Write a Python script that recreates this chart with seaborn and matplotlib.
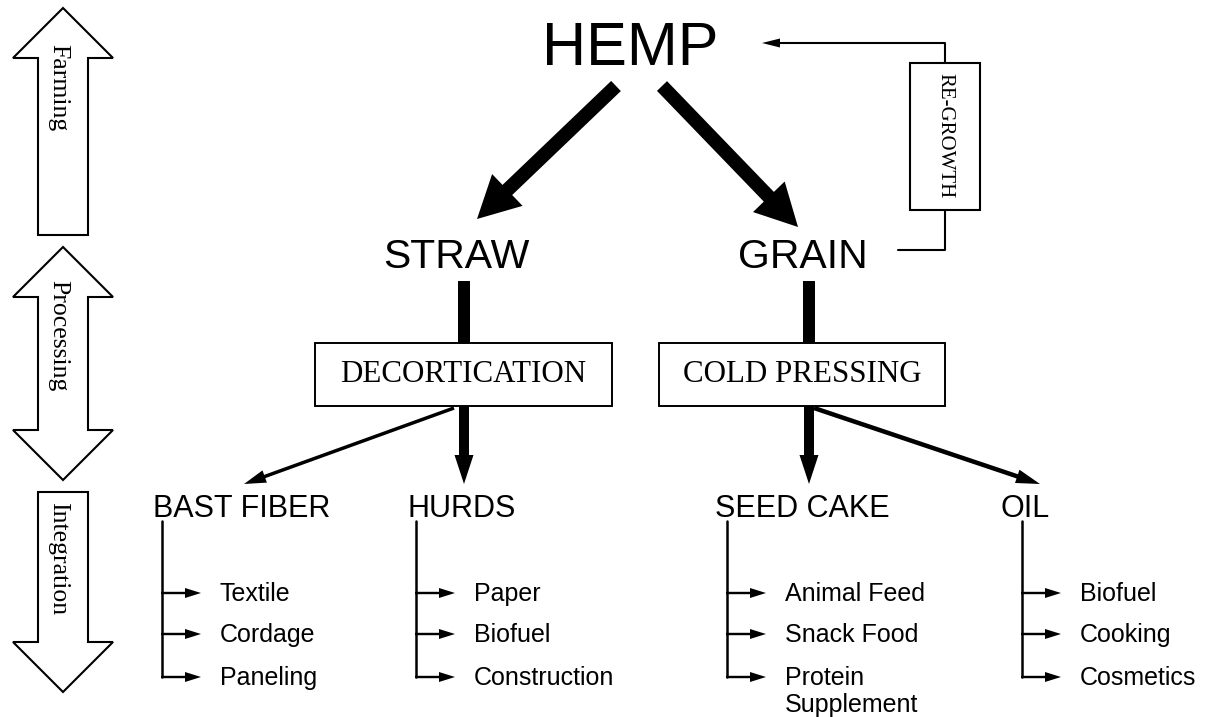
import seaborn as sns
import matplotlib as mpl
mpl.use('Agg')
from matplotlib import pyplot as plt
from matplotlib.patches import Polygon, Rectangle, FancyArrow

# ---- diagram content
stages = ['Farming', 'Processing', 'Integration']
crop = 'HEMP'
parts = ['STRAW', 'GRAIN']
processes = ['DECORTICATION', 'COLD PRESSING']
loop_label = 'RE-GROWTH'
products = ['BAST FIBER', 'HURDS', 'SEED CAKE', 'OIL']
uses = [['Textile', 'Cordage', 'Paneling'],
        ['Paper', 'Biofuel', 'Construction'],
        ['Animal Feed', 'Snack Food', 'Protein\nSupplement'],
        ['Biofuel', 'Cooking', 'Cosmetics']]

# ---- layout, in pixels with y pointing down
W, H = 1206, 717
SANS = 'Liberation Sans'
SERIF = 'Liberation Serif'

stage_span = [(8, 235, True, False), (247, 480, True, True), (492, 692, False, True)]
stage_text_y = [88, 336, 559]

part_x = [456, 803]          # centres of STRAW / GRAIN
bar_x = [464, 809]           # thick connectors / box centres
box_x = [(315, 612), (659, 945)]
box_y = (343, 406)

product_x = [153, 407, 715, 1000]
stem_x = [162, 416, 727, 1022]
branch_y = [593, 634, 677]


def stage_arrow(ax, top, bottom, up, down, cx=63, hs=25, hh=50, hl=50):
    pts = []
    if up:
        pts += [(cx, top), (cx + hh, top + hl), (cx + hs, top + hl)]
    else:
        pts += [(cx + hs, top)]
    if down:
        pts += [(cx + hs, bottom - hl), (cx + hh, bottom - hl), (cx, bottom),
                (cx - hh, bottom - hl), (cx - hs, bottom - hl)]
    else:
        pts += [(cx + hs, bottom), (cx - hs, bottom)]
    if up:
        pts += [(cx - hs, top + hl), (cx - hh, top + hl)]
    else:
        pts += [(cx - hs, top)]
    ax.add_patch(Polygon(pts, closed=True, fc='white', ec='black', lw=1.5))


def arrow(ax, x0, y0, x1, y1, w, hw, hl):
    ax.add_patch(FancyArrow(x0, y0, x1 - x0, y1 - y0, width=w, head_width=hw,
                            head_length=hl, length_includes_head=True,
                            fc='black', ec='none'))


sns.set_theme(style='white')
plt.rcParams['font.family'] = [SANS, 'DejaVu Sans']
plt.rcParams['text.color'] = 'black'

fig = plt.figure(figsize=(W / 100, H / 100), dpi=100)
ax = fig.add_axes([0, 0, 1, 1])
ax.set_xlim(0, W)
ax.set_ylim(H, 0)
ax.axis('off')

# stage arrows on the left
for (top, bottom, up, down), label, ty in zip(stage_span, stages, stage_text_y):
    stage_arrow(ax, top, bottom, up, down)
    ax.text(58, ty, label, rotation=270, ha='center', va='center',
            family=SERIF, fontsize=18.5)

# HEMP and its two main arrows
ax.text(630, 65, crop, ha='center', va='baseline', fontsize=44)
arrow(ax, 616, 86, 477, 219, 14, 44, 42)
arrow(ax, 662, 86, 798, 227, 14, 44, 42)

# re-growth loop
ax.plot([898, 945, 945], [250, 250, 210], color='black', lw=1.5)
ax.plot([945, 945, 775], [63, 43, 43], color='black', lw=1.5)
arrow(ax, 790, 43, 762, 43, 1.5, 9, 18)
ax.add_patch(Rectangle((910, 63), 70, 147, fc='white', ec='black', lw=1.5))
ax.text(945, 136, loop_label, rotation=270, ha='center', va='center',
        family=SERIF, fontsize=15)

# STRAW / GRAIN, bars and process boxes
for px, bx, name, (x0, x1), proc in zip(part_x, bar_x, parts, box_x, processes):
    ax.text(px, 268, name, ha='center', va='baseline', fontsize=29.5)
    ax.add_patch(Rectangle((bx - 6, 281), 12, box_y[0] - 281, fc='black', ec='none'))
    ax.add_patch(Rectangle((x0, box_y[0]), x1 - x0, box_y[1] - box_y[0],
                           fc='white', ec='black', lw=1.4))
    ax.text((x0 + x1) / 2, 382, proc, ha='center', va='baseline',
            family=SERIF, fontsize=22.3)

# arrows from the boxes to the products
arrow(ax, 454, 408, 244, 484, 3.5, 13, 22)
arrow(ax, 464, 406, 464, 484, 10, 19, 29)
arrow(ax, 809, 406, 809, 484, 10, 19, 29)
arrow(ax, 814, 408, 1040, 484, 4.5, 14, 24)

# products and their uses
for lx, sx, name, items in zip(product_x, stem_x, products, uses):
    ax.text(lx, 517, name, ha='left', va='baseline', fontsize=22)
    ax.plot([sx, sx], [521, branch_y[-1]], color='black', lw=1.8)
    for by, item in zip(branch_y, items):
        arrow(ax, sx - 1, by, sx + 39, by, 2.4, 10, 16)
        for k, line in enumerate(item.split('\n')):
            ax.text(sx + 58, by + 8 + 27 * k, line, ha='left', va='baseline',
                    fontsize=18)

plt.savefig('out.png', dpi=100, facecolor='white')
